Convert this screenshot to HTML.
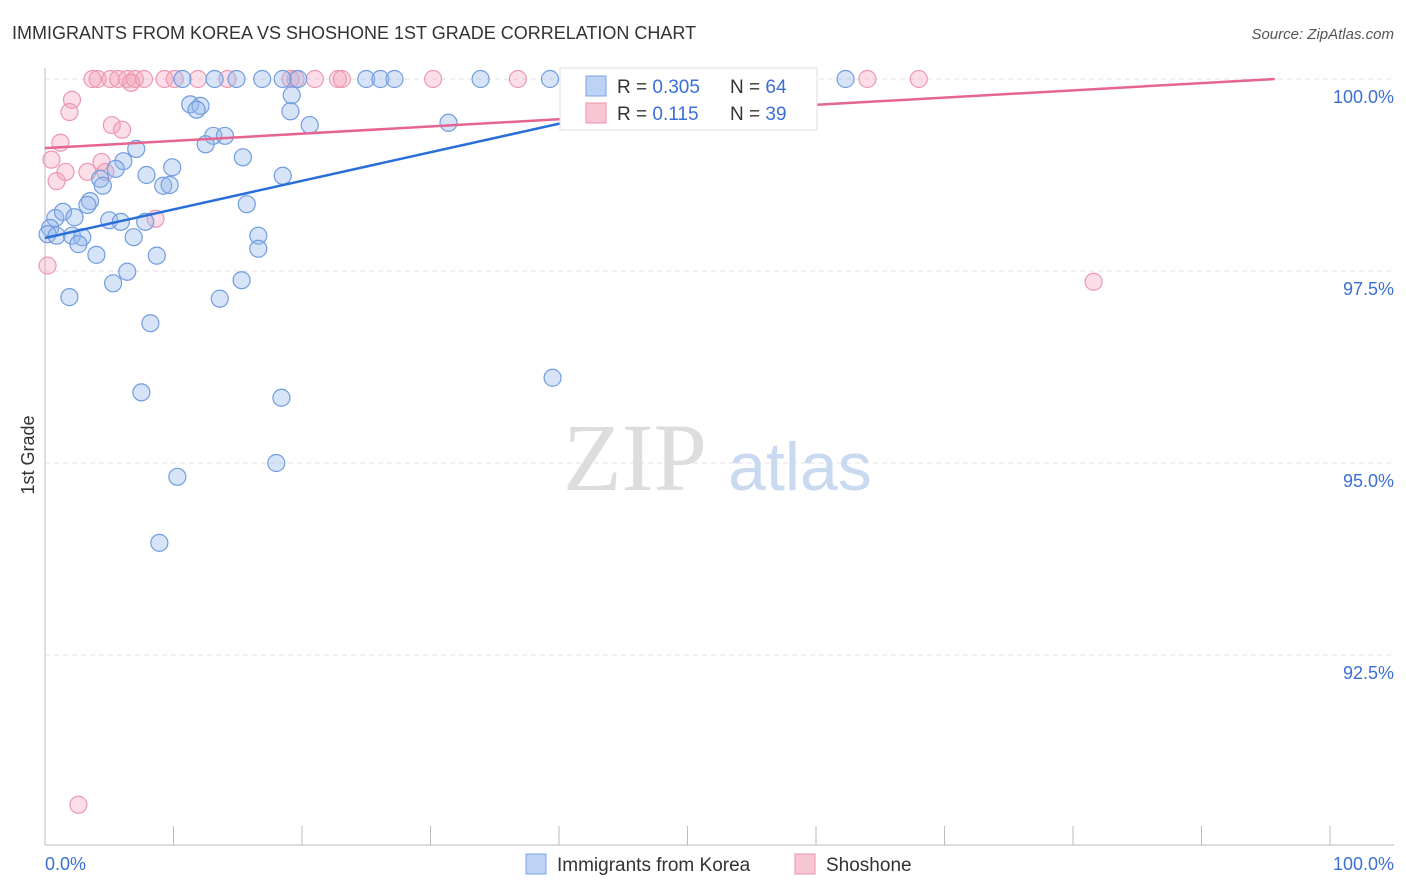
<!DOCTYPE html>
<html><head><meta charset="utf-8"><style>
body{margin:0;background:#fff;font-family:"Liberation Sans",sans-serif;}
svg{display:block}
</style></head><body>
<svg width="1406" height="892">
<text x="12" y="39" font-size="18" fill="#333">IMMIGRANTS FROM KOREA VS SHOSHONE 1ST GRADE CORRELATION CHART</text>
<text x="1394" y="39" font-size="15" fill="#555" font-style="italic" text-anchor="end">Source: ZipAtlas.com</text>
<g id="grid"></g>
<text x="635" y="490" font-size="96" fill="#ddd" font-family="Liberation Serif" text-anchor="middle">ZIP</text>
<text x="800" y="490" font-size="68" fill="#c9d9f0" text-anchor="middle">atlas</text>
<g id="marks"></g>
<text transform="translate(34,455) rotate(-90)" font-size="18" fill="#333" text-anchor="middle">1st Grade</text>
<text x="45" y="870" font-size="18" fill="#3b6fd6">0.0%</text>
<text x="1394" y="870" font-size="18" fill="#3b6fd6" text-anchor="end">100.0%</text>
<g>
<rect x="560" y="68" width="257" height="62" fill="#fff" stroke="#ddd"/>
<rect x="586" y="76" width="20" height="20" fill="#bcd3f5" stroke="#7aa3e3"/>
<text x="617" y="93" font-size="19" fill="#333">R = <tspan fill="#3b6fd6">0.305</tspan></text>
<text x="730" y="93" font-size="19" fill="#333">N = <tspan fill="#3b6fd6">64</tspan></text>
<rect x="586" y="103" width="20" height="20" fill="#f8c6d3" stroke="#e890a8"/>
<text x="617" y="120" font-size="19" fill="#333">R = <tspan fill="#3b6fd6"> 0.115</tspan></text>
<text x="730" y="120" font-size="19" fill="#333">N = <tspan fill="#3b6fd6">39</tspan></text>
</g>
<g><rect x="526" y="854" width="20" height="20" fill="#bcd3f5" stroke="#7aa3e3"/><text x="557" y="871" font-size="19" fill="#333">Immigrants from Korea</text></g>
<g><rect x="795" y="854" width="20" height="20" fill="#f8c6d3" stroke="#e890a8"/><text x="826" y="871" font-size="19" fill="#333">Shoshone</text></g>
</svg>
<script>
const yTicks=[100,97.5,95,92.5];
const yTickLabels=["100.0%","97.5%","95.0%","92.5%"];
const koreaX=[10.7,13.2,14.9,16.9,18.5,19.7,25,26.1,27.2,33.9,39.3,62.3,11.3,12.1,11.8,19.2,19.1,20.6,31.4,13.1,14,12.5,7.1,15.4,6.1,9.9,5.5,7.9,18.5,4.3,4.5,9.2,9.7,3.5,3.3,15.7,0.8,1.4,2.3,5,5.9,7.8,0.4,0.2,0.9,2.1,2.9,6.9,16.6,2.6,4,8.7,16.6,6.4,5.3,15.3,1.9,13.6,8.2,39.5,7.5,18.4,18,10.3,8.9];
const koreaY=[100,100,100,100,100,100,100,100,100,100,100,100,99.67,99.65,99.6,99.79,99.58,99.4,99.43,99.26,99.26,99.15,99.09,98.98,98.93,98.85,98.83,98.75,98.74,98.7,98.61,98.61,98.62,98.41,98.36,98.37,98.19,98.27,98.2,98.16,98.14,98.14,98.06,97.98,97.96,97.96,97.94,97.94,97.96,97.85,97.71,97.7,97.79,97.49,97.34,97.38,97.16,97.14,96.82,96.11,95.92,95.85,95.0,94.82,93.96];
const shoX=[3.7,4.1,5.1,5.7,6.4,7,7.7,9.3,10.1,11.9,14.2,19.1,19.5,21,22.8,23.1,30.2,36.8,42.2,64,68,6.7,2.1,1.9,5.2,6,1.2,0.5,4.4,1.6,3.3,4.7,0.9,8.6,0.2,81.6,2.6];
const shoY=[100,100,100,100,100,100,100,100,100,100,100,100,100,100,100,100,100,100,100,100,100,99.95,99.73,99.57,99.4,99.34,99.17,98.95,98.92,98.79,98.79,98.79,98.67,98.18,97.57,97.36,90.55];
const trendKorea=[97.93,101.65];const trendShoshone=[99.1,100.04];
const NS="http://www.w3.org/2000/svg";
const X=v=>45+v/100*1285, Y=v=>79+(100-v)*76.8;
function mk(t,a,p){const e=document.createElementNS(NS,t);for(const k in a)e.setAttribute(k,a[k]);p.appendChild(e);return e;}
const grid=document.getElementById('grid'),marks=document.getElementById('marks');
yTicks.forEach((t,i)=>{
 const l=mk('line',{x1:45,x2:1394,y1:Y(t),y2:Y(t),stroke:'#e2e2e2','stroke-dasharray':'5,4'},grid);
 
 
 const tx=mk('text',{x:1394,y:Y(t)+24,'font-size':18,fill:'#3b6fd6','text-anchor':'end'},grid);
 tx.textContent=yTickLabels[i];
 
 
});
const ax=mk('line',{x1:45,x2:45,y1:68,y2:845,stroke:'#bbb'},grid);


const bx=mk('line',{x1:45,x2:1394,y1:845,y2:845,stroke:'#bbb'},grid);


for(let i=0;i<=10;i++){const t=mk('line',{x1:X(i*10),x2:X(i*10),y1:826,y2:845,stroke:'#bbb'},grid);
 
 }
shoX.forEach((v,i)=>{const c=mk('circle',{cx:X(v),cy:Y(shoY[i]),r:8.5,fill:'rgba(244,160,185,0.35)',stroke:'#ec98b0','stroke-width':1.2},marks);
 
 });
koreaX.forEach((v,i)=>{const c=mk('circle',{cx:X(v),cy:Y(koreaY[i]),r:8.5,fill:'rgba(150,185,235,0.38)',stroke:'#6f9de0','stroke-width':1.2},marks);
 
 });
const kEnd=54;
const tk=mk('line',{x1:X(0),y1:Y(trendKorea[0]),x2:X(kEnd),y2:Y(trendKorea[0]+(trendKorea[1]-trendKorea[0])*kEnd/100),stroke:'#2a6fd8','stroke-width':2.5},marks);


const sEnd=95.7;
const ts=mk('line',{x1:X(0),y1:Y(trendShoshone[0]),x2:X(sEnd),y2:Y(trendShoshone[0]+(trendShoshone[1]-trendShoshone[0])*sEnd/100),stroke:'#e56490','stroke-width':2.5},marks);


</script>
</body></html>
